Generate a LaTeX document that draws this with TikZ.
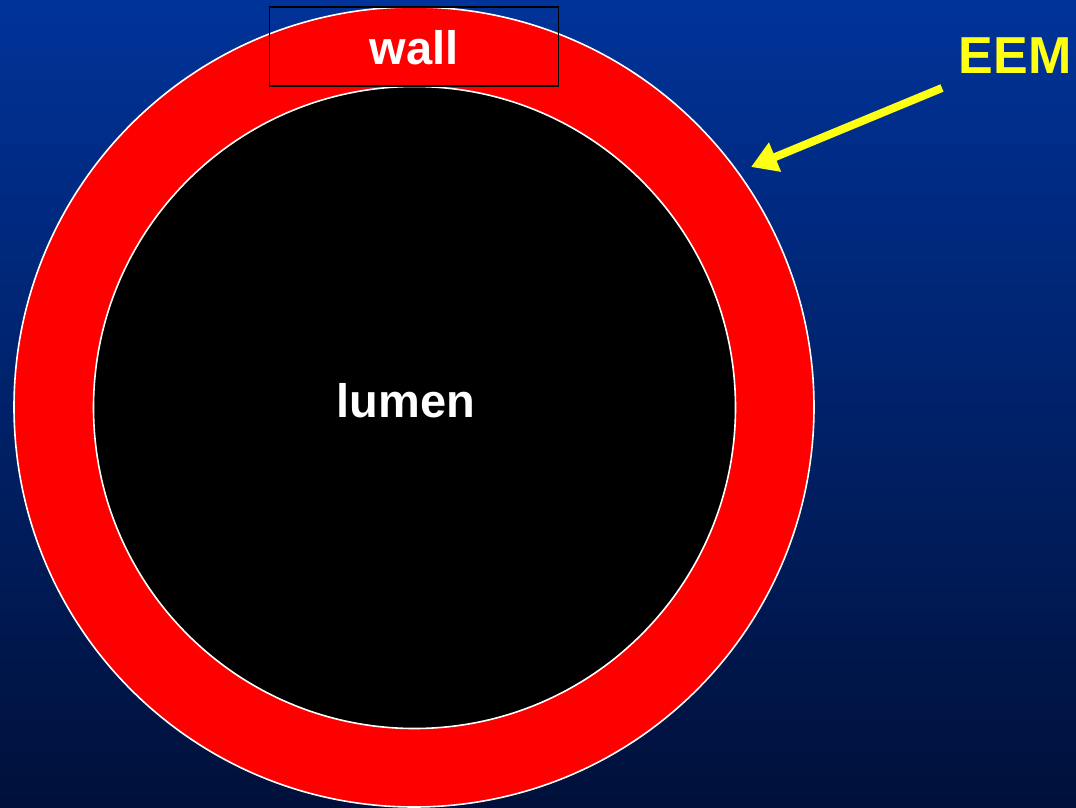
\documentclass[tikz,border=0pt]{standalone}
\usepackage{fontspec}
\setmainfont{Liberation Sans}
\usetikzlibrary{arrows.meta}
\definecolor{bgtop}{RGB}{0,51,153}
\definecolor{bgmid}{RGB}{0,42,128}
\definecolor{bgbot}{RGB}{0,16,58}
\definecolor{eemyellow}{RGB}{255,255,20}
\tikzset{
  lbl/.style={font=\bfseries\fontsize{47}{50}\selectfont, text=white, inner sep=0pt},
  ring/.style={circle, draw=white, line width=1.6pt, inner sep=0pt},
}
\begin{document}
\begin{tikzpicture}[x=1pt,y=-1pt]
\useasboundingbox (0,0) rectangle (1076,808);
\shade[top color=bgtop, middle color=bgmid, bottom color=bgbot] (0,0) rectangle (1076,808);
\node[ring, fill=red, minimum size=800pt] (outer) at (414,407) {};
\node[ring, fill=black, minimum size=642pt] (inner) at (414.5,407.5) {};
\node[draw=black, line width=1.2pt, minimum width=289pt, minimum height=79pt, inner sep=0pt] (wallbox) at (414,46.5) {};
\node[lbl] (wall) at (414,48) {wall};
\node[lbl] (lumen) at (406,401) {lumen};
\node[lbl, text=eemyellow, font=\bfseries\fontsize{52}{55}\selectfont] (eem) at (1015,56) {EEM};
\coordinate (arrstart) at (942,88);
\coordinate (arrtip) at (751,167);
\draw[eemyellow, line width=8pt, -{Triangle[length=26pt,width=30pt]}] (arrstart) -- (arrtip);
\end{tikzpicture}
\end{document}
